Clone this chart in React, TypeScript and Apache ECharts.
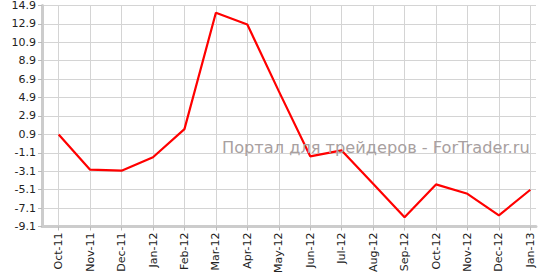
import React, { useEffect, useRef } from "react";
import * as echarts from "echarts";

const months = [
  "Oct-11", "Nov-11", "Dec-11", "Jan-12", "Feb-12", "Mar-12", "Apr-12", "May-12",
  "Jun-12", "Jul-12", "Aug-12", "Sep-12", "Oct-12", "Nov-12", "Dec-12", "Jan-13",
];
const values = [
  0.9, -2.93, -3.04, -1.58, 1.47, 14.12, 12.83, 5.6,
  -1.48, -0.84, -4.46, -8.09, -4.53, -5.55, -7.89, -5.11,
];
const yTicks = [-9.1, -7.1, -5.1, -3.1, -1.1, 0.9, 2.9, 4.9, 6.9, 8.9, 10.9, 12.9, 14.9];
const watermark = "Портал для трейдеров - ForTrader.ru";

export default function App() {
  const ref = useRef<HTMLDivElement>(null);
  useEffect(() => {
    document.body.style.margin = "0";
    const chart = echarts.init(ref.current!, null, { renderer: "svg" });
    const xIdx = months.map((_, i) => i);
    chart.setOption({
      animation: false,
      backgroundColor: "#ffffff",
      grid: { left: 42, right: 2, top: 3, bottom: 37, containLabel: false },
      xAxis: {
        type: "value",
        min: -0.53,
        max: 15.18,
        axisLine: { show: true, onZero: false, lineStyle: { color: "#cccccc", width: 3 } },
        axisTick: { show: true, customValues: xIdx, length: 4, lineStyle: { color: "#bbbbbb" } },
        axisLabel: {
          customValues: xIdx,
          rotate: 90,
          margin: 6,
          fontFamily: "DejaVu Sans",
          fontSize: 11,
          color: "#222222",
          formatter: (v: number) => months[Math.round(v)] ?? "",
        },
        splitLine: { show: true, lineStyle: { color: "#d4d4d4", width: 1 } },
      },
      yAxis: {
        type: "value",
        min: -9.1,
        max: 14.9,
        axisLine: { show: true, onZero: false, lineStyle: { color: "#cccccc", width: 3 } },
        axisTick: { show: true, customValues: yTicks, length: 4, lineStyle: { color: "#bbbbbb" } },
        axisLabel: {
          customValues: yTicks,
          margin: 6,
          fontFamily: "DejaVu Sans",
          fontSize: 11,
          color: "#222222",
          formatter: (v: number) => v.toFixed(1),
        },
        splitLine: { show: true, lineStyle: { color: "#d4d4d4", width: 1 } },
      },
      series: [
        {
          type: "line",
          data: values.map((v, i) => [i, v]),
          showSymbol: false,
          symbol: "none",
          lineStyle: { color: "#ff0000", width: 2.2 },
          itemStyle: { color: "#ff0000" },
        },
      ],
      graphic: [
        {
          type: "text",
          left: 222,
          top: 139,
          z: 100,
          style: {
            text: watermark,
            fontFamily: "DejaVu Sans",
            fontSize: 16.2,
            fill: "#a8a0a0",
          },
        },
      ],
    });
    return () => chart.dispose();
  }, []);
  return <div ref={ref} style={{ width: 538, height: 276 }} />;
}
